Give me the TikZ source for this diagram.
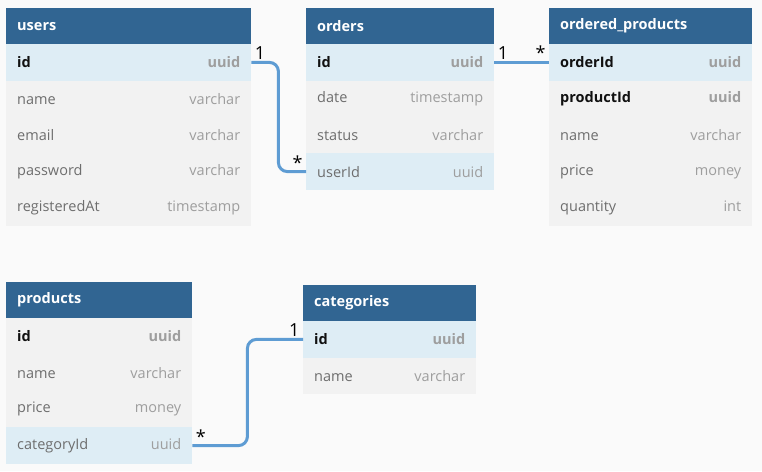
\documentclass[tikz,border=0pt]{standalone}
\usepackage{fontspec}
\setmainfont{Open Sans}
\definecolor{headblue}{HTML}{316592}
\definecolor{rowlight}{HTML}{DEEDF5}
\definecolor{rowgray}{HTML}{F2F2F2}
\definecolor{pagebg}{HTML}{FAFAFA}
\definecolor{fieldgray}{HTML}{6E6E6E}
\definecolor{kindgray}{HTML}{9E9E9E}
\definecolor{keyblack}{HTML}{111111}
\definecolor{linkblue}{HTML}{5E9CD3}
\tikzset{
	cell/.style={anchor=north west, inner xsep=11pt, inner ysep=0pt, minimum height=36.4pt, align=left, font=\fontsize{14.5}{17}\selectfont},
	tablehead/.style={cell, minimum height=36pt, fill=headblue, text=white, font=\fontsize{14.5}{17}\selectfont\bfseries},
	pk/.style={cell, fill=rowlight, text=keyblack, font=\fontsize{14.5}{17}\selectfont\bfseries},
	pkplain/.style={cell, fill=rowgray, text=keyblack, font=\fontsize{14.5}{17}\selectfont\bfseries},
	fk/.style={cell, fill=rowlight, text=fieldgray},
	col/.style={cell, fill=rowgray, text=fieldgray},
	link/.style={draw=linkblue, line width=3pt, rounded corners=9pt},
	card/.style={inner xsep=2pt, inner ysep=1pt, font=\fontsize{18}{20}\selectfont, text=black}
}
% name, x, y, width, title, rows
\newcommand{\erdtable}[6]{%
	\pgfmathsetmacro\tw{#4-22}
	\node[tablehead, text width=\tw pt] (#1) at (#2,#3) {#5};
	\foreach \field/\kind/\sty [count=\ri] in {#6}{
		\node[\sty, text width=\tw pt] (#1-\field) at (#2,{#3+36+(\ri-1)*36.4}) {\field\hfill\textcolor{kindgray}{\kind}};
	}
}
\begin{document}
\begin{tikzpicture}[x=1pt, y=-1pt]
		\fill[pagebg] (0,0) rectangle (762,471);
		\useasboundingbox (0,0) rectangle (762,471);
		\erdtable{users}{6}{8}{245}{users}{
			id/uuid/pk, name/varchar/col, email/varchar/col,
			password/varchar/col, registeredAt/timestamp/col}
		\erdtable{orders}{306}{8}{188}{orders}{
			id/uuid/pk, date/timestamp/col, status/varchar/col, userId/uuid/fk}
		\erdtable{ordprod}{549}{8}{203}{ordered\_products}{
			orderId/uuid/pk, productId/uuid/pkplain, name/varchar/col,
			price/money/col, quantity/int/col}
		\erdtable{products}{6}{282}{186}{products}{
			id/uuid/pkplain, name/varchar/col, price/money/col, categoryId/uuid/fk}
		\erdtable{categories}{303}{285}{173}{categories}{
			id/uuid/pk, name/varchar/col}
		% relations
		\draw[link] (users-id.east) -- node[card, pos=0, anchor=south west] (users-one) {1} ++(27,0) |- node[card, pos=1, anchor=south east] (orders-many) {*} (orders-userId.west);
		\draw[link] (orders-id.east) -- node[card, pos=0, anchor=south west] (orders-one) {1} node[card, pos=1, anchor=south east] (ordprod-many) {*} (ordprod-orderId.west);
		\draw[link] (products-categoryId.east) -- node[card, pos=0, anchor=south west] (products-many) {*} ++(55,0) |- node[card, pos=1, anchor=south east] (categories-one) {1} (categories-id.west);
		\end{tikzpicture}
\end{document}
